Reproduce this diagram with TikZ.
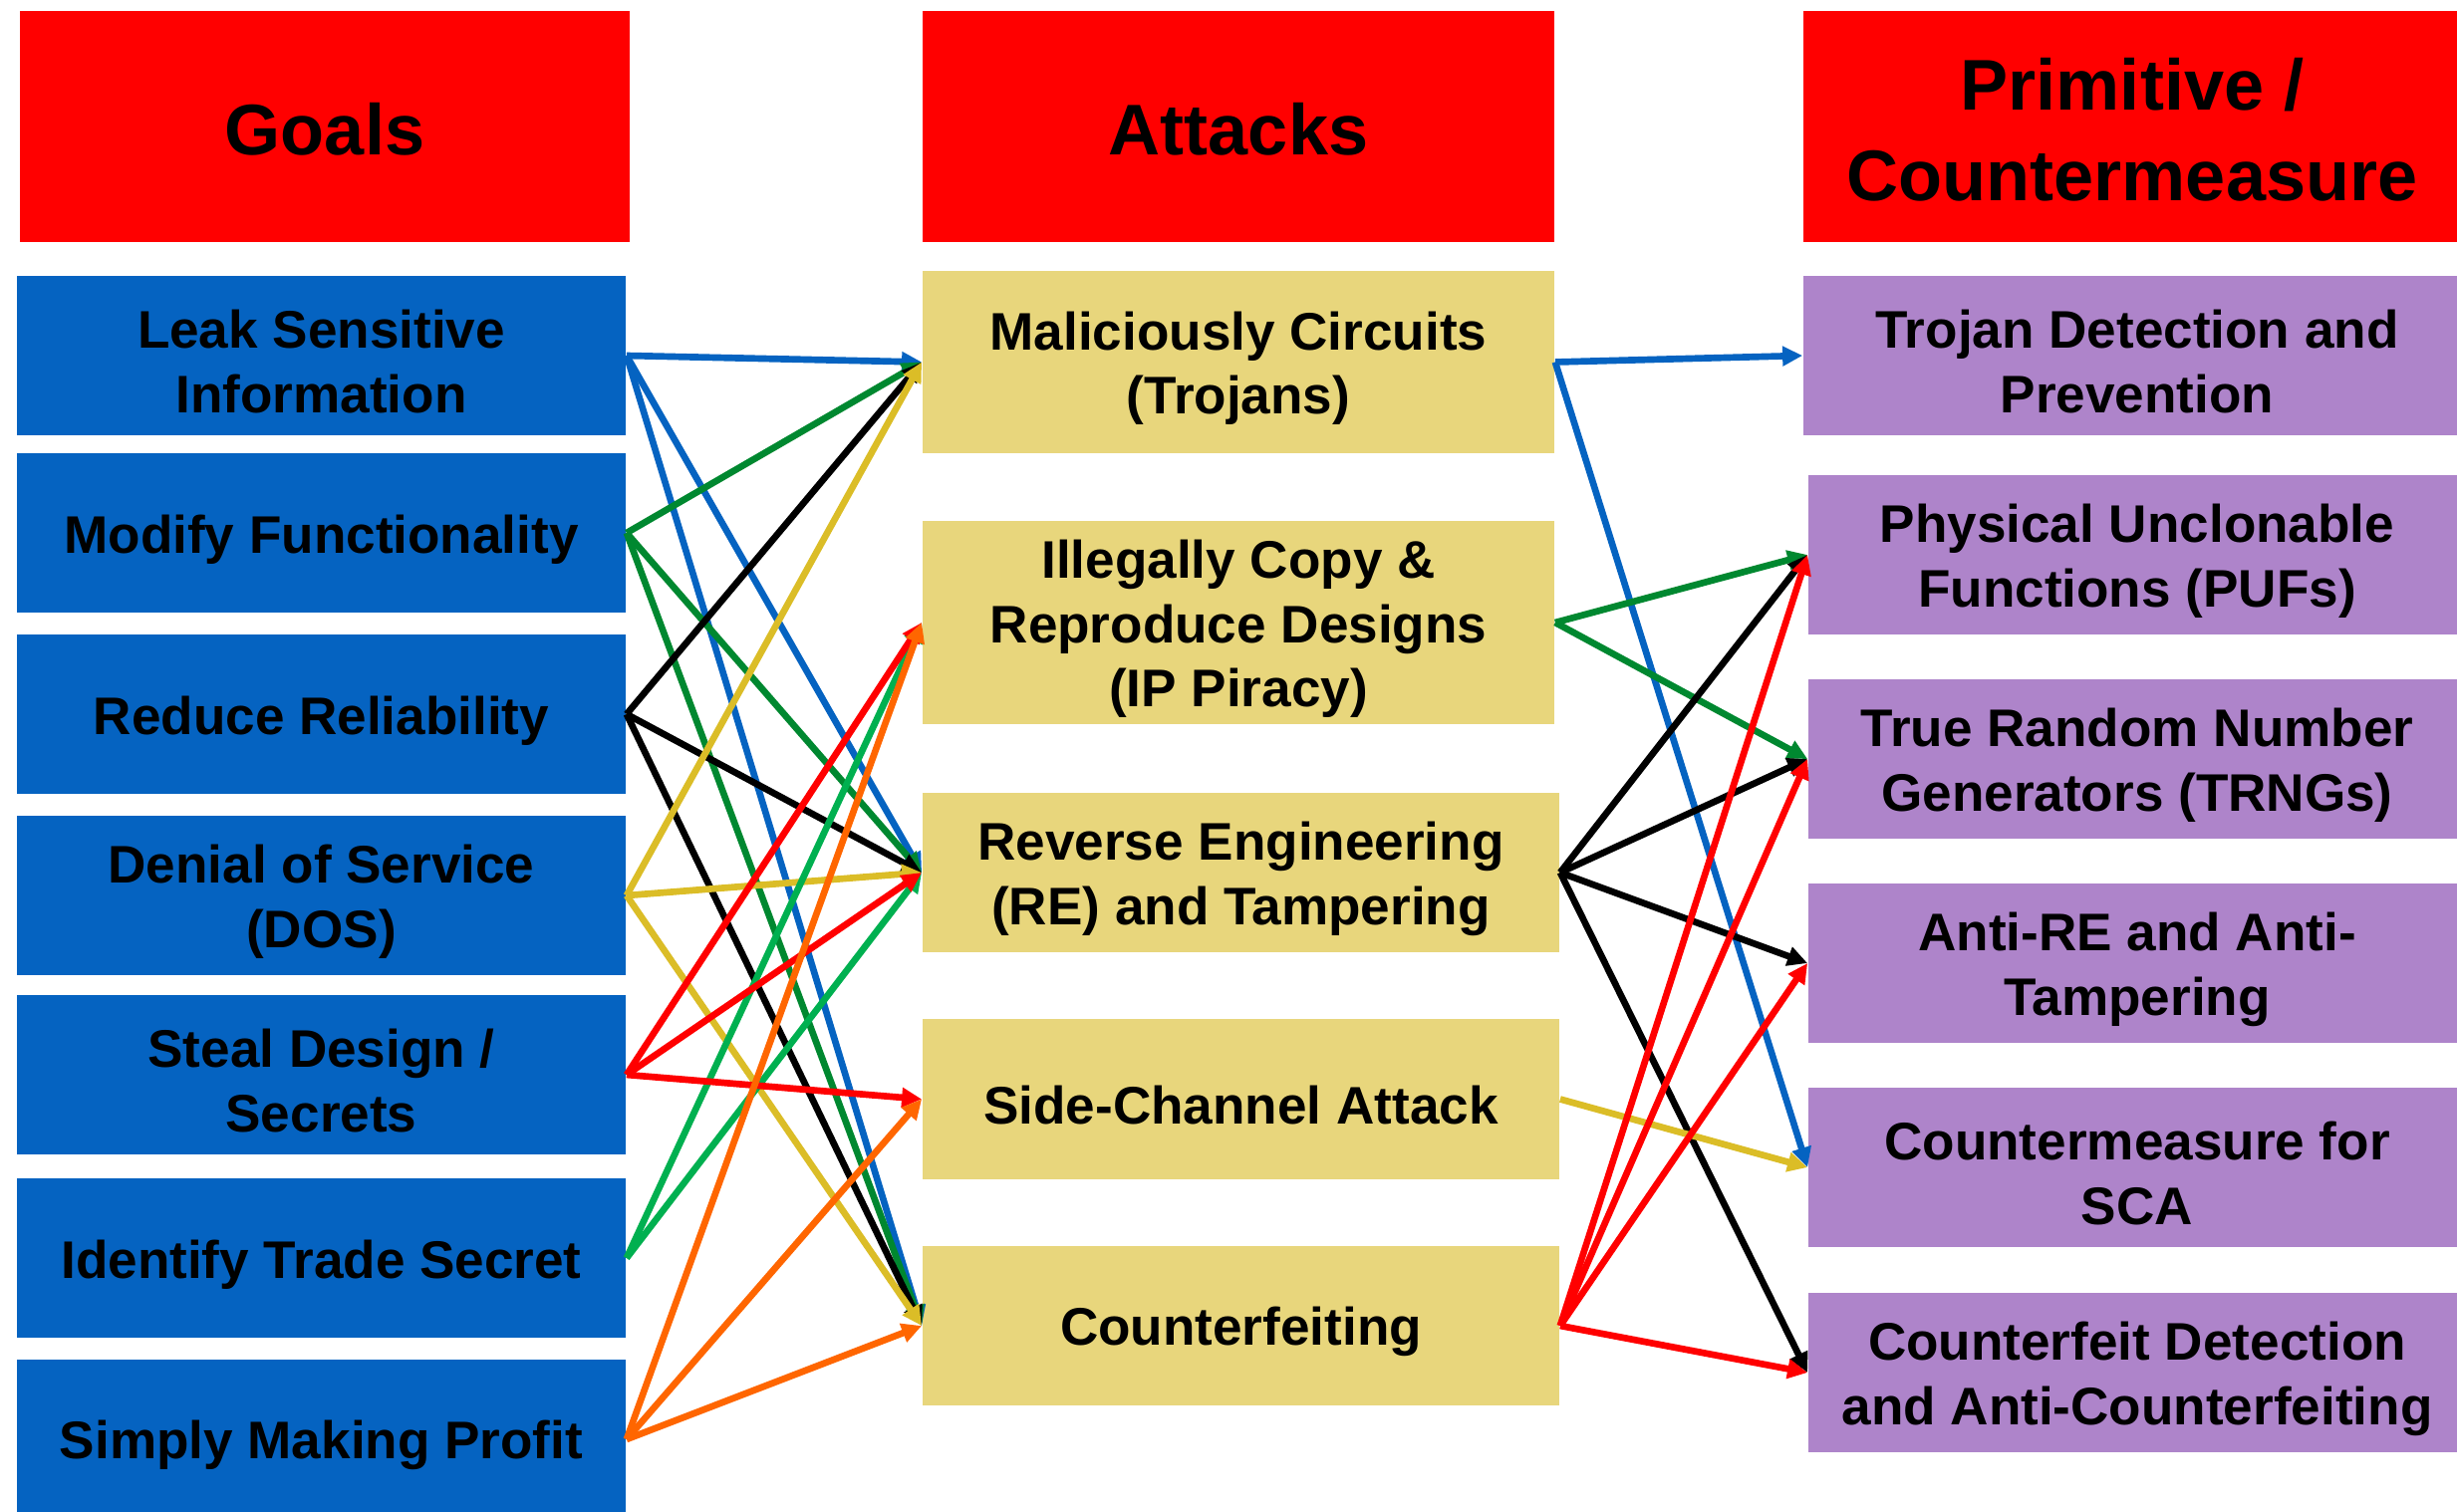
\documentclass[tikz,border=0pt]{standalone}
\usepackage{fontspec}
\setmainfont{Liberation Sans}
\usetikzlibrary{arrows.meta}

\definecolor{hdrred}{RGB}{255,0,0}
\definecolor{goalblue}{RGB}{5,99,193}
\definecolor{attyellow}{RGB}{232,214,124}
\definecolor{cmpurple}{RGB}{174,132,202}
\definecolor{lnblue}{RGB}{5,99,193}
\definecolor{lndgreen}{RGB}{0,136,48}
\definecolor{lnlgreen}{RGB}{0,176,80}
\definecolor{lngold}{RGB}{219,189,39}
\definecolor{lnorange}{RGB}{255,102,0}
\definecolor{lnred}{RGB}{255,0,0}

% invisible struts that sit the first text line a little lower in its box
\newcommand{\bxstrut}{\rule{0pt}{14.5pt}}
\newcommand{\hdstrut}{\rule{0pt}{16.6pt}}

\begin{document}
\begin{tikzpicture}[x=0.01cm,y=-0.01cm,
  box/.style={rectangle, inner sep=0pt, align=center, text=black,
    font=\bfseries\fontsize{15.1}{18.4}\selectfont},
  hdr/.style={box, fill=hdrred, minimum height=2.32cm,
    font=\bfseries\fontsize{20.5}{26}\selectfont},
  goal/.style={box, fill=goalblue, minimum width=6.11cm, minimum height=1.6cm},
  attack/.style={box, fill=attyellow, minimum width=6.39cm, minimum height=1.6cm},
  cmbox/.style={box, fill=cmpurple, minimum width=6.60cm, minimum height=1.6cm},
  link/.style={line width=1.9pt, -{Triangle[length=0.2cm,width=0.19cm]}}]

\useasboundingbox (0,0) rectangle (2466,1517);
\clip (0,0) rectangle (2466,1517);

% column headers
\node[hdr, minimum width=6.12cm] (hg) at (326,127) {\hdstrut Goals};
\node[hdr, minimum width=6.34cm] (ha) at (1243,127) {\hdstrut Attacks};
\node[hdr, minimum width=6.60cm] (hp) at (2140,127) {\hdstrut Primitive /\\Countermeasure};

% goals
\node[goal] (leak)  at (322.5,357)  {\bxstrut Leak Sensitive\\Information};
\node[goal] (modf)  at (322.5,535)  {\bxstrut Modify Functionality};
\node[goal] (relb)  at (322.5,717)  {\bxstrut Reduce Reliability};
\node[goal] (dos)   at (322.5,899)  {\bxstrut Denial of Service\\(DOS)};
\node[goal] (steal) at (322.5,1079) {\bxstrut Steal Design /\\Secrets};
\node[goal] (ident) at (322.5,1263) {\bxstrut Identify Trade Secret};
\node[goal] (prof)  at (322.5,1445) {\bxstrut Simply Making Profit};

% attacks
\node[attack, minimum width=6.34cm, minimum height=1.83cm] (troj) at (1243,363.5) {\bxstrut Maliciously Circuits\\(Trojans)};
\node[attack, minimum width=6.34cm, minimum height=2.04cm] (ipp)  at (1243,625) {\bxstrut Illegally Copy \&\\Reproduce Designs\\(IP Piracy)};
\node[attack] (rev)  at (1245.5,876)  {\bxstrut Reverse Engineering\\(RE) and Tampering};
\node[attack] (sca)  at (1245.5,1103.5) {\bxstrut Side-Channel Attack};
\node[attack] (cfeit) at (1245.5,1331) {\bxstrut Counterfeiting};

% primitives / countermeasures
\node[cmbox, minimum width=6.70cm] (tdp)  at (2145,357)  {\bxstrut Trojan Detection and\\Prevention};
\node[cmbox] (puf)  at (2145,557)  {\bxstrut Physical Unclonable\\Functions (PUFs)};
\node[cmbox] (trng) at (2145,762)  {\bxstrut True Random Number\\Generators (TRNGs)};
\node[cmbox] (are)  at (2145,967)  {\bxstrut Anti-RE and Anti-\\Tampering};
\node[cmbox] (csca) at (2145,1172) {\bxstrut Countermeasure for\\SCA};
\node[cmbox] (cfd)  at (2145,1378) {\bxstrut Counterfeit Detection\\and Anti-Counterfeiting};

% goals -> attacks
\draw[link, lnblue] (leak.east) -- (troj.west);
\draw[link, lnblue] (leak.east) -- (rev.west);
\draw[link, lnblue] (leak.east) -- (cfeit.west);

\draw[link, lndgreen] (modf.east) -- (troj.west);
\draw[link, lndgreen] (modf.east) -- (rev.west);
\draw[link, lndgreen] (modf.east) -- (cfeit.west);

\draw[link, black] (relb.east) -- (troj.west);
\draw[link, black] (relb.east) -- (rev.west);
\draw[link, black] (relb.east) -- (cfeit.west);

\draw[link, lngold] (dos.east) -- (troj.west);
\draw[link, lngold] (dos.east) -- (rev.west);
\draw[link, lngold] (dos.east) -- (cfeit.west);

\draw[link, lnlgreen] (ident.east) -- (ipp.west);
\draw[link, lnlgreen] (ident.east) -- (rev.west);

\draw[link, lnred] (steal.east) -- (ipp.west);
\draw[link, lnred] (steal.east) -- (rev.west);
\draw[link, lnred] (steal.east) -- (sca.west);

\draw[link, lnorange] (prof.east) -- (ipp.west);
\draw[link, lnorange] (prof.east) -- (sca.west);
\draw[link, lnorange] (prof.east) -- (cfeit.west);

% attacks -> primitives / countermeasures
\draw[link, lnblue] (troj.east) -- (tdp.west);
\draw[link, lnblue] (troj.east) -- (csca.west);

\draw[link, lndgreen] (ipp.east) -- (puf.west);
\draw[link, lndgreen] (ipp.east) -- (trng.west);

\draw[link, black] (rev.east) -- (puf.west);
\draw[link, black] (rev.east) -- (trng.west);
\draw[link, black] (rev.east) -- (are.west);
\draw[link, black] (rev.east) -- (cfd.west);

\draw[link, lngold] (sca.east) -- (csca.west);

\draw[link, lnred] (cfeit.east) -- (puf.west);
\draw[link, lnred] (cfeit.east) -- (trng.west);
\draw[link, lnred] (cfeit.east) -- (are.west);
\draw[link, lnred] (cfeit.east) -- (cfd.west);
\end{tikzpicture}
\end{document}
